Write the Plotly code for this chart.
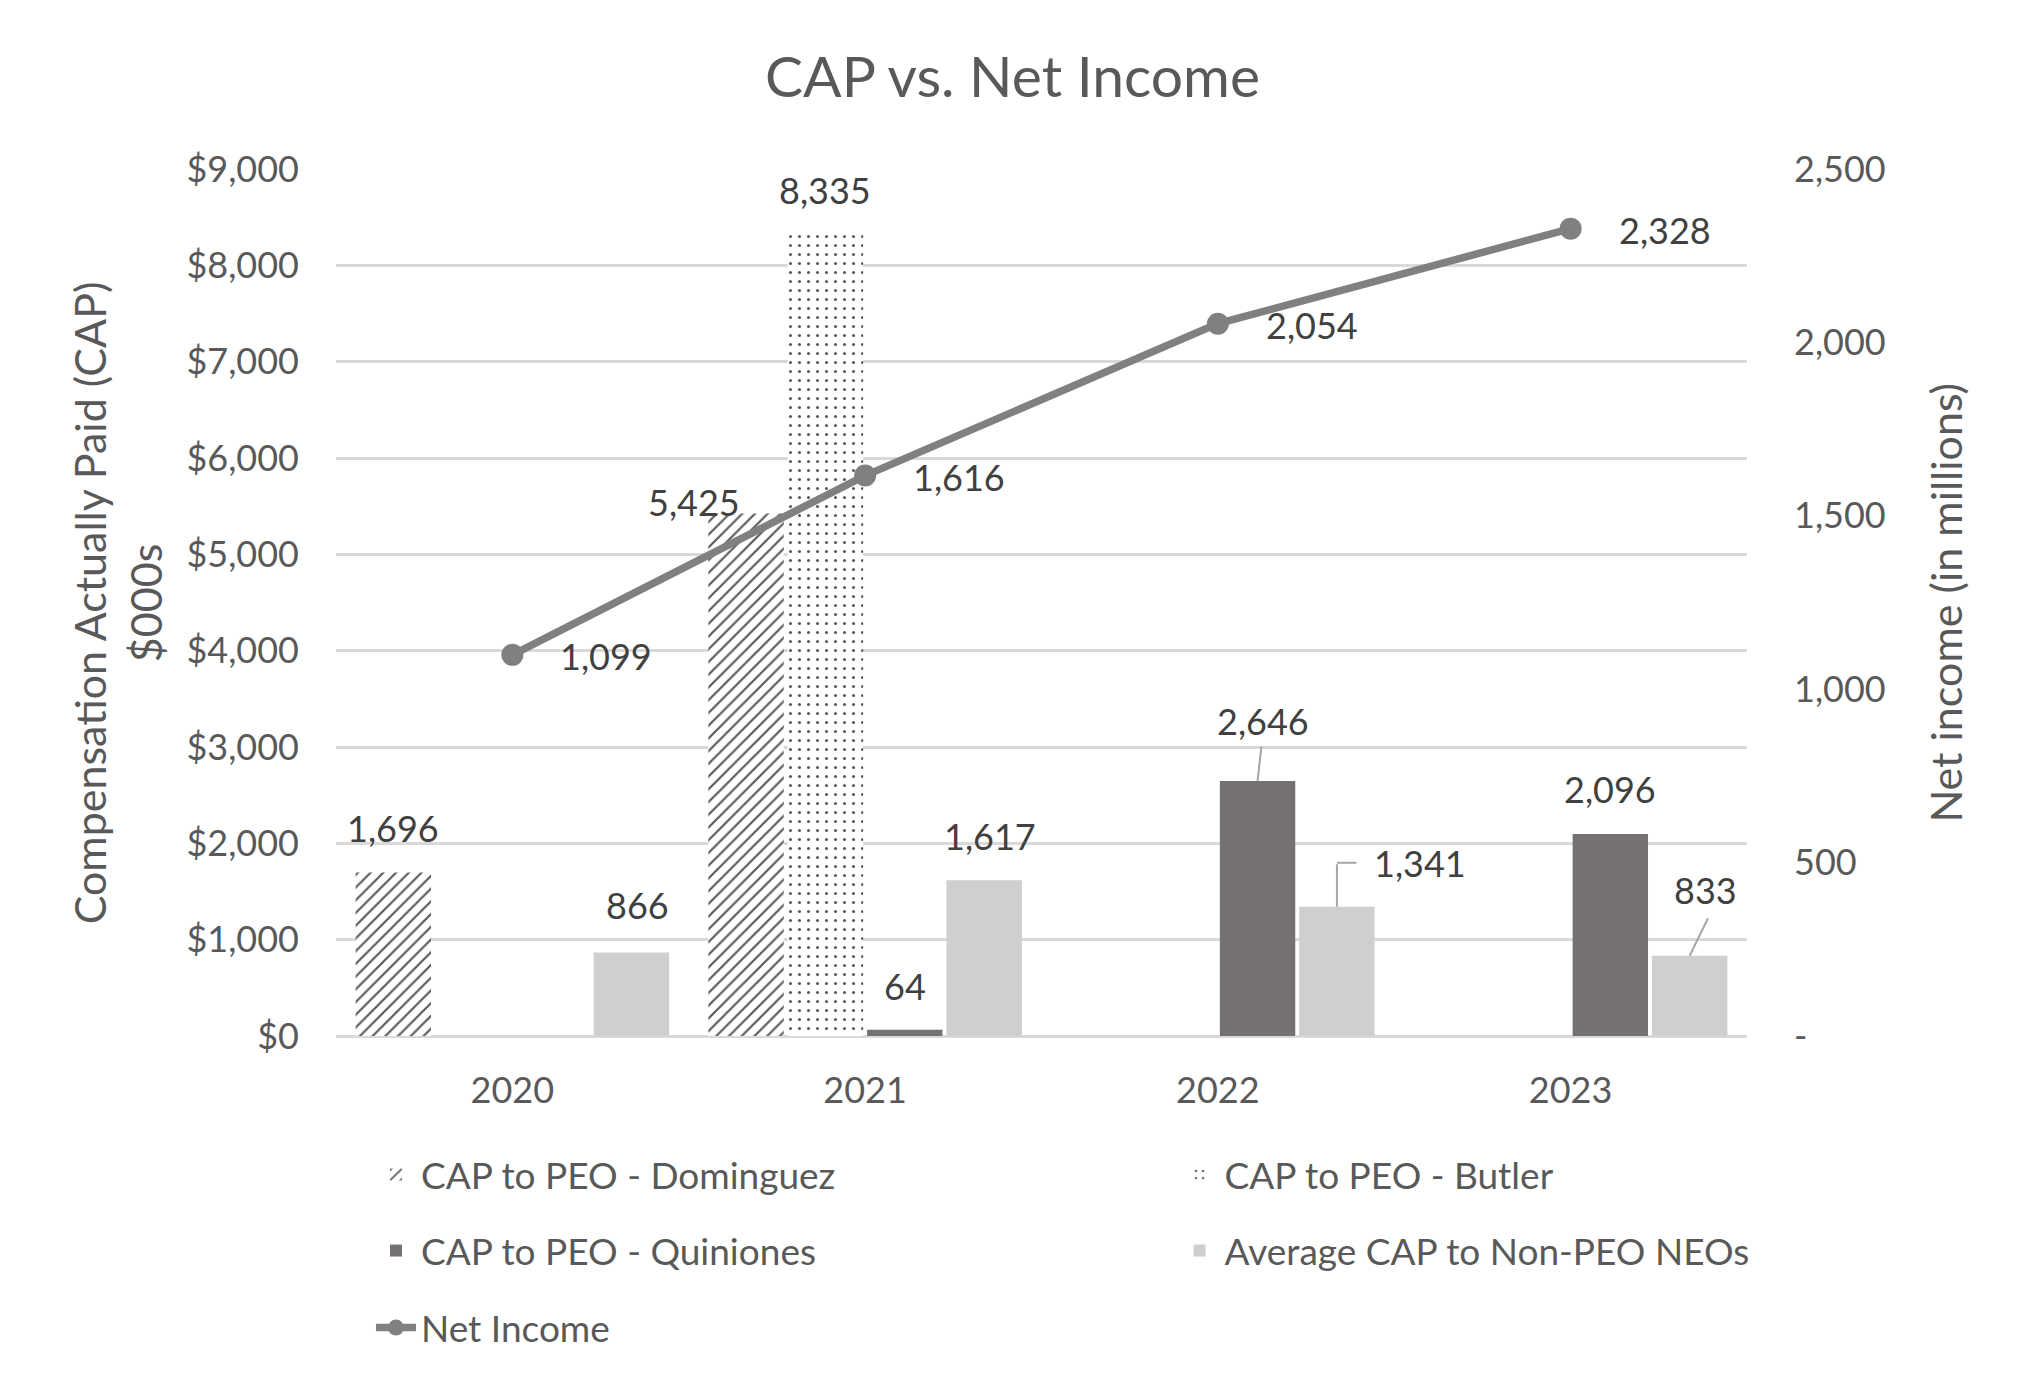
import plotly.graph_objects as go

# ---------------- data ----------------
years = ["2020", "2021", "2022", "2023"]
cap_dominguez = [1696, 5425, None, None]
cap_butler = [None, 8335, None, None]
cap_quiniones = [None, 64, 2646, 2096]
cap_neo_avg = [866, 1617, 1341, 833]
net_income = [1099, 1616, 2054, 2328]

left_tickvals = [0, 1000, 2000, 3000, 4000, 5000, 6000, 7000, 8000, 9000]
left_ticktext = ["$0", "$1,000", "$2,000", "$3,000", "$4,000", "$5,000",
                 "$6,000", "$7,000", "$8,000", "$9,000"]
right_tickvals = [0, 500, 1000, 1500, 2000, 2500]
right_ticktext = ["-", "500", "1,000", "1,500", "2,000", "2,500"]

series_names = ["CAP to PEO - Dominguez", "CAP to PEO - Butler",
                "CAP to PEO - Quiniones", "Average CAP to Non-PEO NEOs"]
line_name = "Net Income"

# ---------------- styling ----------------
FONT = "Lato"
TXT = "#595959"
LBL = "#404040"
GRID = "#D9D9D9"
BARGAP = 0.1
BARGROUPGAP = 0.05
N_SERIES = 4

# label offsets (px) per series / year index  (xshift, yshift)
bar_label_offsets = [
    {0: (0, 45), 1: (-52, 11)},
    {1: (0, 43)},
    {1: (0, 44), 2: (5, 60), 3: (0, 45)},
    {0: (6, 48), 1: (6, 44), 2: (83, 44), 3: (16, 66)},
]
# leader lines: (series, year index, yshift, ax, ay)
leaders = [
    (2, 2, 0, 4, -36),
    (3, 2, 0, 0, -44),
    (3, 2, 44, 21, 0),
    (3, 3, 0, 19, -39),
]
line_label_shift = (94, -1)

# legend placement (paper coords) for each entry
legend_pos = {
    "legend": (0.0248, (1036 - 1175) / 867),
    "legend2": (0.5943, (1036 - 1175) / 867),
    "legend3": (0.0248, (1036 - 1251) / 867),
    "legend4": (0.5943, (1036 - 1251) / 867),
    "legend5": (0.0248, (1036 - 1328) / 867),
}

fig = go.Figure()

bar_styles = [
    dict(color="white", pattern=dict(shape="/", size=9, solidity=0.24,
                                     fgcolor="#595959", bgcolor="white", fillmode="replace")),
    dict(color="white", pattern=dict(shape=".", size=9, solidity=0.09,
                                     fgcolor="#595959", bgcolor="white", fillmode="replace")),
    dict(color="#767171"),
    dict(color="#D0CECE"),
]
legend_ids = ["legend", "legend2", "legend3", "legend4"]
series_vals = [cap_dominguez, cap_butler, cap_quiniones, cap_neo_avg]

for name, vals, style, lg in zip(series_names, series_vals, bar_styles, legend_ids):
    fig.add_trace(go.Bar(
        x=years, y=vals, name=name, marker=dict(**style, line=dict(width=0)),
        legend=lg, yaxis="y", hoverinfo="skip",
    ))

fig.add_trace(go.Scatter(
    x=years, y=net_income, name=line_name, mode="lines+markers",
    line=dict(color="#808080", width=7.5),
    marker=dict(color="#808080", size=22),
    yaxis="y2", legend="legend5", hoverinfo="skip",
))

# ---------------- annotations (data labels) ----------------
slot = (1 - BARGAP) / N_SERIES
annotations = []
for s, vals in enumerate(series_vals):
    off = (s - (N_SERIES - 1) / 2) * slot
    for i, v in enumerate(vals):
        if v is None:
            continue
        dx, dy = bar_label_offsets[s].get(i, (0, 44))
        annotations.append(dict(
            x=i + off, y=v, xref="x", yref="y", text=f"{v:,}", showarrow=False,
            xshift=dx, yshift=dy, xanchor="center", yanchor="middle",
            font=dict(family=FONT, size=36, color=LBL),
        ))

for s, i, ys, ax, ay in leaders:
    off = (s - (N_SERIES - 1) / 2) * slot
    annotations.append(dict(
        x=i + off, y=series_vals[s][i], xref="x", yref="y", text="",
        showarrow=True, arrowhead=0, arrowwidth=2, arrowcolor="#A6A6A6",
        ax=ax, ay=ay, yshift=ys, standoff=0, startstandoff=0,
    ))

for i, v in enumerate(net_income):
    annotations.append(dict(
        x=i, y=v, xref="x", yref="y2", text=f"{v:,}", showarrow=False,
        xshift=line_label_shift[0], yshift=line_label_shift[1],
        xanchor="center", yanchor="middle",
        font=dict(family=FONT, size=36, color=LBL),
    ))

# axis titles
annotations.append(dict(
    x=-0.1546, y=0.5, xref="paper", yref="paper",
    text="Compensation Actually Paid (CAP)<br>$000s", textangle=-90,
    showarrow=False, xanchor="center", yanchor="middle",
    font=dict(family=FONT, size=43, color=TXT),
))
annotations.append(dict(
    x=1.1404, y=0.5, xref="paper", yref="paper",
    text="Net income (in millions)", textangle=-90,
    showarrow=False, xanchor="center", yanchor="middle",
    font=dict(family=FONT, size=43, color=TXT),
))

legends = {}
for key, (lx, ly) in legend_pos.items():
    legends[key] = dict(orientation="v", xanchor="left", yanchor="middle",
                        x=lx, y=ly, bgcolor="rgba(0,0,0,0)",
                        font=dict(family=FONT, size=37, color=TXT), itemwidth=40)

fig.update_layout(
    width=2025, height=1395, autosize=False,
    margin=dict(l=336, r=278, t=169, b=359, pad=0),
    paper_bgcolor="white", plot_bgcolor="white",
    title=dict(text="CAP vs. Net Income", x=0.5, xref="container", xanchor="center",
               y=1 - 77 / 1395, yref="container", yanchor="middle",
               font=dict(family=FONT, size=57, color=TXT)),
    barmode="group", bargap=BARGAP, bargroupgap=BARGROUPGAP,
    xaxis=dict(type="category", showgrid=False, showline=False, zeroline=False,
               ticks="", tickfont=dict(family=FONT, size=36, color=TXT),
               ticklabelstandoff=30),
    yaxis=dict(range=[0, 9000], tickvals=left_tickvals, ticktext=left_ticktext,
               showgrid=True, gridcolor=GRID, gridwidth=2.5, zeroline=True,
               zerolinecolor=GRID, zerolinewidth=2.5, showline=False, ticks="",
               tickfont=dict(family=FONT, size=36, color=TXT), ticklabelstandoff=36),
    yaxis2=dict(range=[0, 2500], tickvals=right_tickvals, ticktext=right_ticktext,
                overlaying="y", side="right", showgrid=False, zeroline=False,
                showline=False, ticks="",
                tickfont=dict(family=FONT, size=36, color=TXT), ticklabelstandoff=46),
    annotations=annotations,
    showlegend=True,
    **legends,
)

fig.write_html("out.html", config={"displayModeBar": False},
               post_script="document.body.style.margin='0';document.body.style.overflow='hidden';")
